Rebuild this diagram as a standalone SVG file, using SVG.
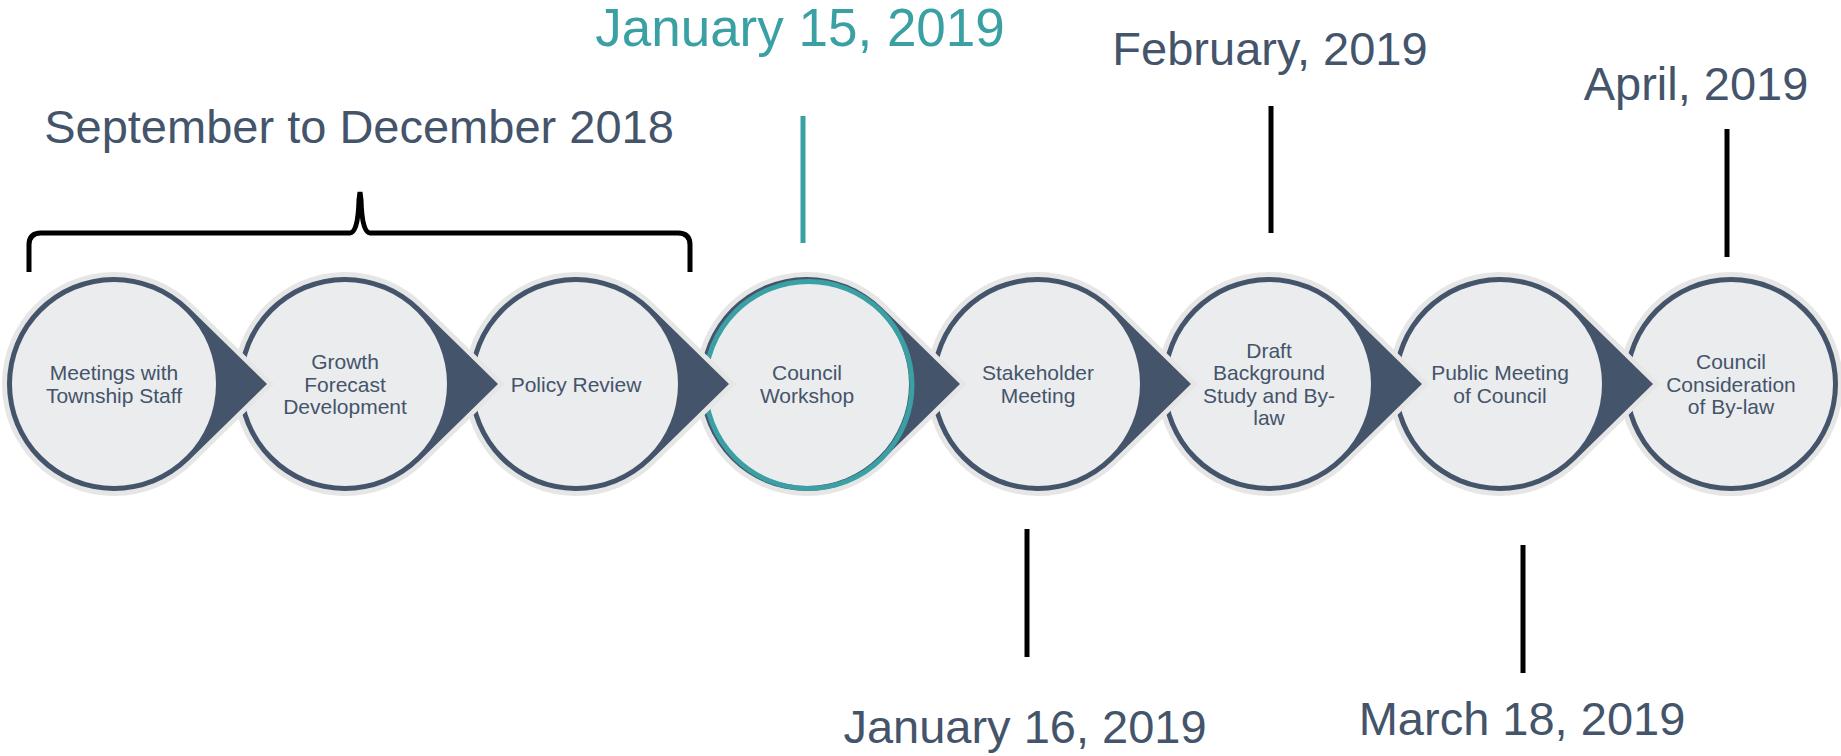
<svg xmlns="http://www.w3.org/2000/svg" width="1841" height="756" viewBox="0 0 1841 756">
<style>
  .drop{fill:#44546A;stroke:#E7E6E6;stroke-width:10;stroke-linejoin:miter;paint-order:stroke}
  .inner{fill:#EBECEE}
  .lbl{font-family:"Liberation Sans",Arial,sans-serif;font-size:21px;fill:#44546A;text-anchor:middle}
  .date{font-family:"Liberation Sans",Arial,sans-serif;font-size:47px;fill:#44546A;text-anchor:middle}
  .teal{fill:#3AA0A3}
  .tick{stroke:#000;stroke-width:5;fill:none}
</style>
<defs>
  <path id="drop" d="M74.8,-76.5 L153,0 L74.8,76.5 A107,107 0 1 1 74.8,-76.5 Z"/>
</defs>
<rect width="1841" height="756" fill="#fff"/>

<g id="node8">
  <circle cx="1731" cy="384" r="107" fill="#44546A" stroke="#E7E6E6" stroke-width="10" paint-order="stroke"/>
  <circle class="inner" cx="1731" cy="384" r="102"/>
  <text class="lbl"><tspan x="1731" y="369">Council</tspan><tspan x="1731" y="391.5">Consideration</tspan><tspan x="1731" y="414">of By-law</tspan></text>
</g>
<g id="node7">
  <use href="#drop" class="drop" transform="translate(1500,384)"/>
  <circle class="inner" cx="1500" cy="384" r="102"/>
  <text class="lbl"><tspan x="1500" y="380.25">Public Meeting</tspan><tspan x="1500" y="402.75">of Council</tspan></text>
</g>
<g id="node6">
  <use href="#drop" class="drop" transform="translate(1269,384)"/>
  <circle class="inner" cx="1269" cy="384" r="102"/>
  <text class="lbl"><tspan x="1269" y="357.75">Draft</tspan><tspan x="1269" y="380.25">Background</tspan><tspan x="1269" y="402.75">Study and By-</tspan><tspan x="1269" y="425.25">law</tspan></text>
</g>
<g id="node5">
  <use href="#drop" class="drop" transform="translate(1038,384)"/>
  <circle class="inner" cx="1038" cy="384" r="102"/>
  <text class="lbl"><tspan x="1038" y="380.25">Stakeholder</tspan><tspan x="1038" y="402.75">Meeting</tspan></text>
</g>
<g id="node4">
  <use href="#drop" class="drop" transform="translate(807,384)"/>
  <circle class="inner" cx="807" cy="384" r="102"/>
  <circle cx="808.5" cy="385" r="103.5" fill="none" stroke="#3AA0A3" stroke-width="5"/>
  <text class="lbl"><tspan x="807" y="380.25">Council</tspan><tspan x="807" y="402.75">Workshop</tspan></text>
</g>
<g id="node3">
  <use href="#drop" class="drop" transform="translate(576,384)"/>
  <circle class="inner" cx="576" cy="384" r="102"/>
  <text class="lbl"><tspan x="576" y="391.5">Policy Review</tspan></text>
</g>
<g id="node2">
  <use href="#drop" class="drop" transform="translate(345,384)"/>
  <circle class="inner" cx="345" cy="384" r="102"/>
  <text class="lbl"><tspan x="345" y="369">Growth</tspan><tspan x="345" y="391.5">Forecast</tspan><tspan x="345" y="414">Development</tspan></text>
</g>
<g id="node1">
  <use href="#drop" class="drop" transform="translate(114,384)"/>
  <circle class="inner" cx="114" cy="384" r="102"/>
  <text class="lbl"><tspan x="114" y="380.25">Meetings with</tspan><tspan x="114" y="402.75">Township Staff</tspan></text>
</g>

<g id="connectors">
  <path class="tick" d="M29,272 L29,245 Q29,233 41,233 L350,233 Q358,233 359,200 L360,192 L361,200 Q362,233 370,233 L678,233 Q690,233 690,245 L690,272"/>
  <line x1="803" y1="116" x2="803" y2="243" stroke="#3AA0A3" stroke-width="5"/>
  <line class="tick" x1="1271" y1="106" x2="1271" y2="233"/>
  <line class="tick" x1="1727" y1="129" x2="1727" y2="257"/>
  <line class="tick" x1="1027" y1="529" x2="1027" y2="657"/>
  <line class="tick" x1="1523" y1="545" x2="1523" y2="673"/>
</g>

<g id="labels">
  <text class="date" x="359" y="143">September to December 2018</text>
  <text class="date teal" x="800" y="46" style="font-size:53px">January 15, 2019</text>
  <text class="date" x="1270" y="65">February, 2019</text>
  <text class="date" x="1696" y="100">April, 2019</text>
  <text class="date" x="1025" y="743">January 16, 2019</text>
  <text class="date" x="1522" y="735">March 18, 2019</text>
</g>
</svg>
